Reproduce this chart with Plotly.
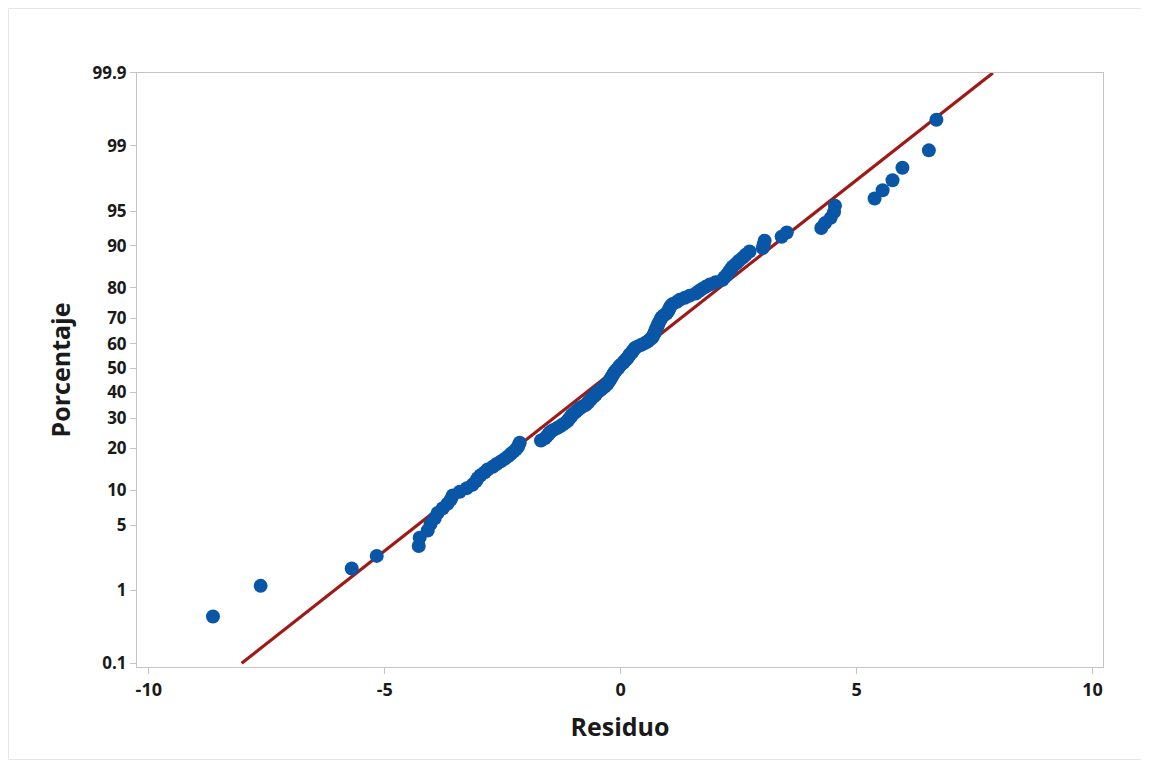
import plotly.graph_objects as go
from statistics import NormalDist, mean, stdev

# Residuals (sorted)
residuo = [
    -8.64, -7.63, -5.70, -5.17, -4.28, -4.26, -4.09, -4.03, -3.94, -3.88,
    -3.77, -3.67, -3.60, -3.56, -3.41, -3.26, -3.14, -3.07, -3.03, -2.97,
    -2.88, -2.82, -2.71, -2.63, -2.54, -2.46, -2.39, -2.33, -2.27, -2.22,
    -2.18, -2.16, -2.14, -1.69, -1.61, -1.57, -1.53, -1.50, -1.44, -1.36,
    -1.29, -1.23, -1.17, -1.12, -1.10, -1.06, -1.04, -1.00, -0.95, -0.91,
    -0.87, -0.81, -0.74, -0.70, -0.68, -0.64, -0.61, -0.57, -0.53, -0.51,
    -0.47, -0.42, -0.38, -0.34, -0.30, -0.28, -0.25, -0.23, -0.21, -0.19,
    -0.17, -0.15, -0.13, -0.10, -0.07, -0.04, -0.02, 0.02, 0.06, 0.08,
    0.12, 0.15, 0.17, 0.19, 0.23, 0.25, 0.28, 0.30, 0.36, 0.44,
    0.51, 0.57, 0.61, 0.66, 0.68, 0.70, 0.72, 0.73, 0.74, 0.76,
    0.78, 0.79, 0.81, 0.83, 0.85, 0.87, 0.91, 0.97, 1.00, 1.02,
    1.04, 1.06, 1.10, 1.19, 1.25, 1.36, 1.46, 1.59, 1.65, 1.72,
    1.80, 1.89, 2.01, 2.16, 2.20, 2.25, 2.29, 2.33, 2.37, 2.44,
    2.50, 2.58, 2.65, 2.73, 3.01, 3.03, 3.05, 3.41, 3.52, 4.25,
    4.33, 4.45, 4.52, 4.54, 5.38, 5.55, 5.76, 5.97, 6.53, 6.69,
]

# Y axis tick labels (percentages on a normal probability scale)
pct_ticks = [0.1, 1, 5, 10, 20, 30, 40, 50, 60, 70, 80, 90, 95, 99, 99.9]
pct_text = ["0.1", "1", "5", "10", "20", "30", "40", "50", "60", "70", "80", "90", "95", "99", "99.9"]
x_ticks = [-10, -5, 0, 5, 10]

nd = NormalDist()
n = len(residuo)
# Median rank plotting positions (Minitab default), then probit scale
pct = [(i + 1 - 0.3) / (n + 0.4) for i in range(n)]
yz = [nd.inv_cdf(p) for p in pct]
tick_z = [nd.inv_cdf(p / 100) for p in pct_ticks]

mu = mean(residuo)
sd = stdev(residuo)
line_z = [nd.inv_cdf(0.001), nd.inv_cdf(0.999)]
line_x = [mu + sd * z for z in line_z]

BLUE = "#0A56A6"
RED = "#9E1A16"
AXIS = "#C4C4C4"
FONT = "Open Sans"
TXT = "#1a1a1a"

W, H = 1134, 752
L, R, T, B = 129, 39, 65, 93
pw, ph = W - L - R, H - T - B

fig = go.Figure()
fig.add_trace(go.Scatter(x=line_x, y=line_z, mode="lines",
                         line=dict(color=RED, width=3.2), hoverinfo="skip", showlegend=False))
fig.add_trace(go.Scatter(x=residuo, y=yz, mode="markers",
                         marker=dict(color=BLUE, size=14, line=dict(width=0)),
                         showlegend=False))

fig.update_layout(
    width=W, height=H,
    paper_bgcolor="white", plot_bgcolor="white",
    margin=dict(l=L, r=R, t=T, b=B),
    font=dict(family=FONT, color=TXT),
    xaxis=dict(
        range=[-10.25, 10.22], tickvals=x_ticks, ticktext=[str(v) for v in x_ticks],
        showgrid=False, zeroline=False, showline=True, linecolor=AXIS, linewidth=1, mirror=True,
        ticks="outside", ticklen=6, tickcolor=AXIS,
        tickfont=dict(family=FONT, size=18, color=TXT, weight=700),
        title=dict(text="Residuo", font=dict(family=FONT, size=25, color=TXT, weight=700), standoff=18),
    ),
    yaxis=dict(
        range=[-3.13, 3.09], tickvals=tick_z, ticktext=pct_text,
        showgrid=False, zeroline=False, showline=True, linecolor=AXIS, linewidth=1, mirror=True,
        ticks="outside", ticklen=6, tickcolor=AXIS,
        tickfont=dict(family=FONT, size=17, color=TXT, weight=700),
        title=dict(text="Porcentaje", font=dict(family=FONT, size=25, color=TXT, weight=700), standoff=14),
    ),
    shapes=[dict(type="rect", xref="paper", yref="paper",
                 x0=(-L + 0.5) / pw, x1=(W - L - 0.5) / pw,
                 y0=(B - 0.5) / ph * -1, y1=(ph + T - 0.5) / ph,
                 line=dict(color="#E6E6E6", width=1), fillcolor="rgba(0,0,0,0)", layer="below")],
)

fig.write_html("out.html")
